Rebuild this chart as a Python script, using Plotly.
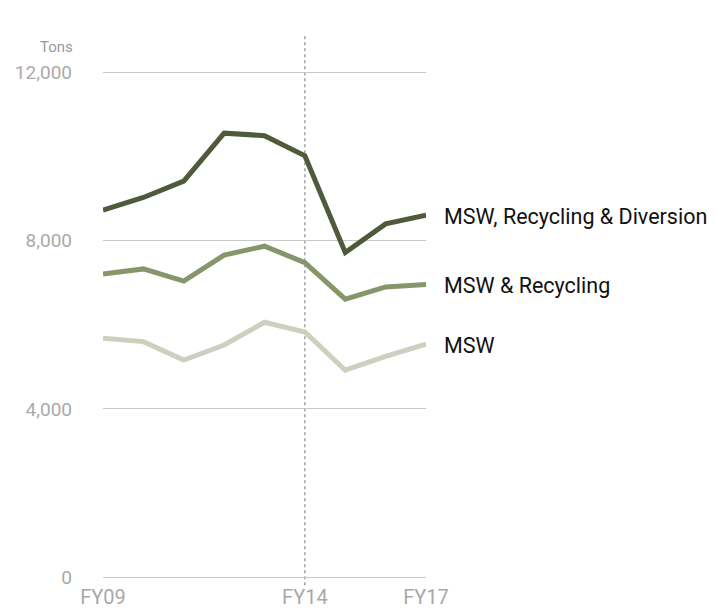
import plotly.graph_objects as go

years = ["FY09", "FY10", "FY11", "FY12", "FY13", "FY14", "FY15", "FY16", "FY17"]
msw_rec_div = [8730, 9030, 9420, 10560, 10500, 10020, 7720, 8400, 8610]
msw_rec = [7210, 7330, 7040, 7660, 7870, 7480, 6610, 6900, 6960]
msw = [5680, 5600, 5160, 5520, 6060, 5830, 4920, 5250, 5540]
series_names = ["MSW, Recycling & Diversion", "MSW & Recycling", "MSW"]
series_colors = ["#4f5a3b", "#86966a", "#cdd0be"]
y_ticks = [0, 4000, 8000, 12000]
y_tick_text = ["0", "4,000", "8,000", "12,000"]
x_tick_labels = ["FY09", "FY14", "FY17"]
highlight_year = "FY14"

FONT = "Roboto, sans-serif"

fig = go.Figure()
idx = list(range(len(years)))
for name, vals, col in zip(series_names, [msw_rec_div, msw_rec, msw], series_colors):
    fig.add_trace(go.Scatter(
        x=idx, y=vals, mode="lines", name=name,
        line=dict(color=col, width=5), cliponaxis=False, hoverinfo="skip",
    ))
    fig.add_annotation(
        x=idx[-1], y=vals[-1], xref="x", yref="y", text=name,
        showarrow=False, xanchor="left", yanchor="middle", xshift=16, yshift=-1,
        font=dict(family=FONT, size=21.5, color="#111111"),
    )

hx = years.index(highlight_year)
fig.add_shape(type="line", xref="x", yref="paper", x0=hx, x1=hx, y0=-0.016, y1=1.048,
              line=dict(color="#a0a0a0", width=1.5, dash="dot"), layer="below")

L, R, T, B = 103, 290, 60, 36
plot_w = 716 - L - R
plot_h = 613 - T - B
fig.add_annotation(x=(56 - L) / plot_w, y=(613 - B - 47) / plot_h, xref="paper", yref="paper",
                   text="Tons", showarrow=False, xanchor="center", yanchor="middle",
                   font=dict(family=FONT, size=15, color="#999999"))

fig.update_layout(
    width=716, height=613,
    margin=dict(l=L, r=R, t=T, b=B),
    plot_bgcolor="white", paper_bgcolor="white",
    showlegend=False,
    xaxis=dict(
        range=[0, 8], tickmode="array",
        tickvals=[years.index(t) for t in x_tick_labels], ticktext=x_tick_labels,
        showgrid=False, zeroline=False, showline=False, automargin=False,
        tickfont=dict(family=FONT, size=20, color="#a8a8a8"),
        ticks="", ticklabelstandoff=6,
    ),
    yaxis=dict(
        range=[0, 12300], tickmode="array", tickvals=y_ticks, ticktext=y_tick_text,
        showgrid=True, gridcolor="#c8c8c8", gridwidth=1,
        zeroline=True, zerolinecolor="#c8c8c8", zerolinewidth=1,
        showline=False, automargin=False,
        tickfont=dict(family=FONT, size=19, color="#aaaaaa"),
        ticks="", ticklabelstandoff=30,
    ),
)
fig.write_html("out.html", post_script="document.body.style.margin='0';",
               config={"displayModeBar": False})
